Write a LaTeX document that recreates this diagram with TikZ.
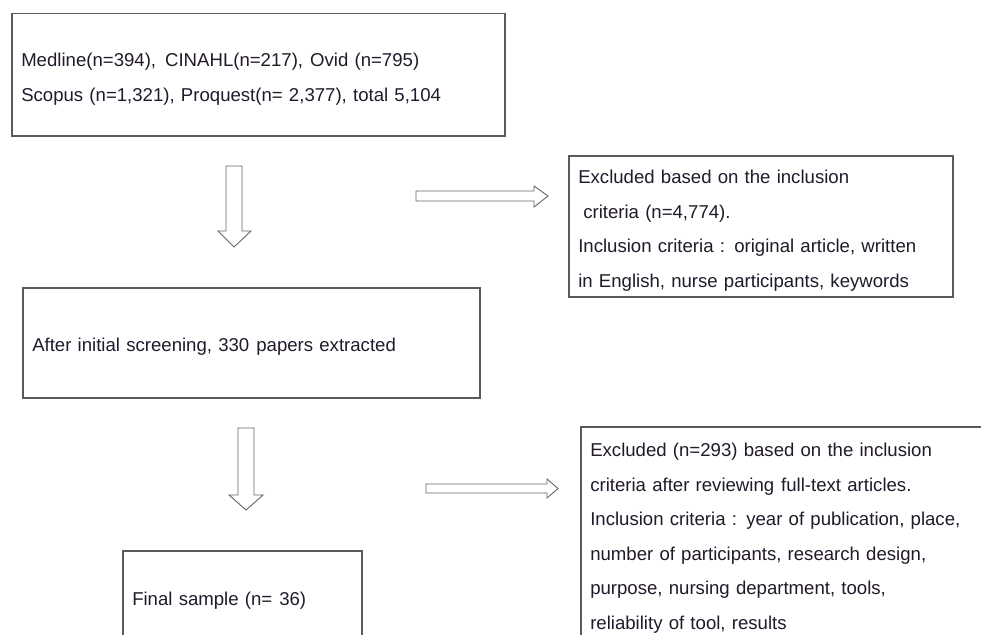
\documentclass[tikz,border=0pt]{standalone}
\usepackage{fontspec}
\setmainfont{Liberation Sans}
\definecolor{boxline}{HTML}{5A5A5A}
\definecolor{arrline}{HTML}{666666}
\definecolor{txt}{HTML}{221A2A}
\begin{document}
\begin{tikzpicture}[x=1pt,y=-1pt,
  box/.style={draw=boxline, line width=1.5pt, rectangle, inner xsep=9.5pt, inner ysep=0pt,
    align=left, text=txt, anchor=north west,
    font=\fontsize{18.6}{34.5}\selectfont,
    execute at begin node={\rule{0pt}{22pt}}},
  blockarrow/.style={draw=arrline, line width=0.9pt, fill=white, line join=miter}]
\clip (0,0) rectangle (981,634);
\fill[white] (0,0) rectangle (981,634);

\node[box, minimum width=493pt, minimum height=122pt, text width=474pt] (db) at (11,13)
  {Medline(n=394),\hspace{9pt}CINAHL(n=217),\hspace{7pt}Ovid (n=795)\\
   Scopus (n=1,321), Proquest(n= 2,377), total 5,104};

\node[box, minimum width=384pt, minimum height=141pt, text width=365pt] (ex1) at (568,155)
  {Excluded based on the inclusion\\
   \hspace*{5pt}criteria (n=4,774).\\
   \makebox[360pt][s]{Inclusion criteria : original article, written}\\
   in English, nurse participants, keywords};

\node[box, minimum width=457pt, minimum height=110pt, text width=438pt] (screen) at (22,287)
  {After initial screening, 330\hspace{7pt}papers extracted};

\node[box, minimum width=430pt, minimum height=214pt, text width=411pt] (ex2) at (580,426)
  {Excluded (n=293) based on the inclusion\\
   criteria after reviewing\hspace{7pt}full-text articles.\\
   Inclusion criteria : year of publication, place,\\
   number of participants, research design,\\
   purpose, nursing department, tools,\\
   reliability of tool, results};

\node[box, minimum width=239pt, minimum height=92pt, text width=220pt] (final) at (122,550)
  {Final sample (n=\hspace{7pt}36)};

% block arrows
\draw[blockarrow] (226,166) -- (242,166) -- (242,231) -- (251,231) -- (234,247)
  -- (218,231) -- (226,231) -- cycle;
\draw[blockarrow] (416,191) -- (534,191) -- (534,186) -- (548,196) -- (534,207)
  -- (534,201) -- (416,201) -- cycle;
\draw[blockarrow] (238,428) -- (254,428) -- (254,495) -- (263,495) -- (246,510)
  -- (229,495) -- (238,495) -- cycle;
\draw[blockarrow] (426,484) -- (547,484) -- (547,479) -- (558,488.5) -- (547,498)
  -- (547,493) -- (426,493) -- cycle;
\end{tikzpicture}
\end{document}
